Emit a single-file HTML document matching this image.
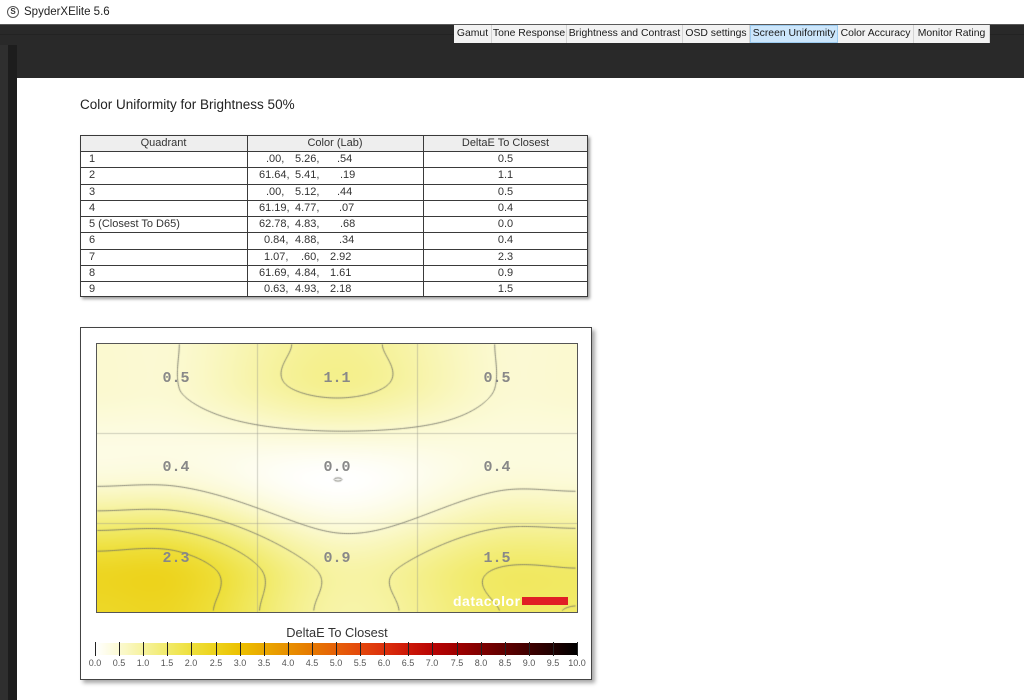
<!DOCTYPE html>
<html><head><meta charset="utf-8">
<style>
*{margin:0;padding:0;box-sizing:border-box}
html,body{width:1024px;height:700px;overflow:hidden;background:#fff;font-family:"Liberation Sans",Arial,sans-serif;position:relative}
.abs{position:absolute}
.tab{position:absolute;top:25px;height:18px;background:#f2f2f2;border-right:1px solid #d4d4d4;font-size:10.4px;color:#1a1a1a;text-align:center;line-height:18px;white-space:nowrap}
.tab.sel{background:#cce6fb;border:1px solid #9ccbf0;line-height:16px}
.t{position:absolute;font-size:11px;color:#333;white-space:nowrap;line-height:12px}
.hl{position:absolute;left:0;width:506px;height:1px;background:#3a3a3a}
.lbl{position:absolute;font-family:"Liberation Mono",monospace;font-weight:bold;font-size:15px;color:#888;line-height:16px;width:40px;text-align:center}
.tk{position:absolute;top:642px;width:1px;height:14px;background:#222}
.tl{position:absolute;top:658px;font-size:9px;color:#555;width:30px;text-align:center;line-height:10px}
</style></head><body>
<!-- title bar -->
<div class="abs" style="left:0;top:0;width:1024px;height:24px;background:#fff"></div>
<div class="abs" style="left:7px;top:6px;width:12px;height:12px;border:1px solid #555;border-radius:50%;font-size:8px;font-weight:bold;text-align:center;line-height:10px;color:#333">S</div>
<div class="abs" style="left:24px;top:5px;font-size:11.5px;color:#222;line-height:14px">SpyderXElite 5.6</div>
<!-- dark band -->
<div class="abs" style="left:0;top:24px;width:1024px;height:55px;background:#292929;border-top:1px solid #5a5a5a"></div>
<div class="abs" style="left:0;top:34px;width:1024px;height:1px;background:#232323"></div>
<div class="abs" style="left:0;top:45px;width:17px;height:655px;background:linear-gradient(to right,#2f2f2f 0px,#2f2f2f 8px,#1d1d1d 8px,#1d1d1d 17px)"></div>
<div class="abs" style="left:17px;top:78px;width:1007px;height:622px;background:#fff"></div>
<!-- tabs -->
<div class="tab" style="left:454px;width:38px">Gamut</div>
<div class="tab" style="left:492px;width:75px">Tone Response</div>
<div class="tab" style="left:567px;width:116px">Brightness and Contrast</div>
<div class="tab" style="left:683px;width:67px">OSD settings</div>
<div class="tab sel" style="left:750px;width:88px">Screen Uniformity</div>
<div class="tab" style="left:838px;width:76px">Color Accuracy</div>
<div class="tab" style="left:914px;width:76px">Monitor Rating</div>

<!-- page title -->
<div class="abs" style="left:80px;top:97px;font-size:13.5px;color:#222;line-height:16px;white-space:nowrap">Color Uniformity for Brightness 50%</div>

<!-- table -->
<div class="abs" style="left:80px;top:135px;width:508px;height:162px;border:1px solid #3a3a3a;box-shadow:2px 2px 3px rgba(0,0,0,.4);background:#fff">
  <div class="abs" style="left:0;top:0;width:506px;height:15px;background:#eeeeee"></div>
  <div class="hl" style="top:15px"></div>
  <div class="hl" style="top:31px"></div>
  <div class="hl" style="top:48px"></div>
  <div class="hl" style="top:64px"></div>
  <div class="hl" style="top:80px"></div>
  <div class="hl" style="top:96px"></div>
  <div class="hl" style="top:113px"></div>
  <div class="hl" style="top:129px"></div>
  <div class="hl" style="top:145px"></div>
  <div class="abs" style="left:166px;top:0;width:1px;height:160px;background:#3a3a3a"></div>
  <div class="abs" style="left:342px;top:0;width:1px;height:160px;background:#3a3a3a"></div>
</div>
<!-- header text -->
<div class="t" style="left:80px;width:167px;text-align:center;top:137px">Quadrant</div>
<div class="t" style="left:247px;width:176px;text-align:center;top:137px">Color (Lab)</div>
<div class="t" style="left:423px;width:165px;text-align:center;top:137px">DeltaE To Closest</div>
<!-- rows -->
<div class="t" style="left:89px;top:153px">1</div>
<div class="t" style="left:89px;top:169px">2</div>
<div class="t" style="left:89px;top:186px">3</div>
<div class="t" style="left:89px;top:202px">4</div>
<div class="t" style="left:89px;top:218px">5 (Closest To D65)</div>
<div class="t" style="left:89px;top:234px">6</div>
<div class="t" style="left:89px;top:251px">7</div>
<div class="t" style="left:89px;top:267px">8</div>
<div class="t" style="left:89px;top:283px">9</div>

<div class="t" style="left:266px;top:153px">.00,</div><div class="t" style="left:295px;top:153px">5.26,</div><div class="t" style="left:337px;top:153px">.54</div>
<div class="t" style="left:259px;top:169px">61.64,</div><div class="t" style="left:295px;top:169px">5.41,</div><div class="t" style="left:340px;top:169px">.19</div>
<div class="t" style="left:266px;top:186px">.00,</div><div class="t" style="left:295px;top:186px">5.12,</div><div class="t" style="left:337px;top:186px">.44</div>
<div class="t" style="left:259px;top:202px">61.19,</div><div class="t" style="left:295px;top:202px">4.77,</div><div class="t" style="left:339px;top:202px">.07</div>
<div class="t" style="left:259px;top:218px">62.78,</div><div class="t" style="left:295px;top:218px">4.83,</div><div class="t" style="left:340px;top:218px">.68</div>
<div class="t" style="left:264px;top:234px">0.84,</div><div class="t" style="left:295px;top:234px">4.88,</div><div class="t" style="left:339px;top:234px">.34</div>
<div class="t" style="left:264px;top:251px">1.07,</div><div class="t" style="left:301px;top:251px">.60,</div><div class="t" style="left:330px;top:251px">2.92</div>
<div class="t" style="left:259px;top:267px">61.69,</div><div class="t" style="left:295px;top:267px">4.84,</div><div class="t" style="left:330px;top:267px">1.61</div>
<div class="t" style="left:264px;top:283px">0.63,</div><div class="t" style="left:295px;top:283px">4.93,</div><div class="t" style="left:330px;top:283px">2.18</div>

<div class="t" style="left:423px;width:165px;text-align:center;top:153px">0.5</div>
<div class="t" style="left:423px;width:165px;text-align:center;top:169px">1.1</div>
<div class="t" style="left:423px;width:165px;text-align:center;top:186px">0.5</div>
<div class="t" style="left:423px;width:165px;text-align:center;top:202px">0.4</div>
<div class="t" style="left:423px;width:165px;text-align:center;top:218px">0.0</div>
<div class="t" style="left:423px;width:165px;text-align:center;top:234px">0.4</div>
<div class="t" style="left:423px;width:165px;text-align:center;top:251px">2.3</div>
<div class="t" style="left:423px;width:165px;text-align:center;top:267px">0.9</div>
<div class="t" style="left:423px;width:165px;text-align:center;top:283px">1.5</div>

<!-- chart box -->
<div class="abs" style="left:80px;top:327px;width:512px;height:353px;border:1px solid #444;background:#fff;box-shadow:3px 3px 4px rgba(0,0,0,.35)"></div>
<div class="abs" style="left:96px;top:343px;width:482px;height:270px;border:1px solid #555;background:#fbf8d6">
  <canvas id="hm" width="480" height="268" style="position:absolute;left:0;top:0;width:480px;height:268px"></canvas>
</div>
<!-- heatmap labels -->
<div class="lbl" style="left:156px;top:371px">0.5</div>
<div class="lbl" style="left:317px;top:371px">1.1</div>
<div class="lbl" style="left:477px;top:371px">0.5</div>
<div class="lbl" style="left:156px;top:460px">0.4</div>
<div class="lbl" style="left:317px;top:460px">0.0</div>
<div class="lbl" style="left:477px;top:460px">0.4</div>
<div class="lbl" style="left:156px;top:551px">2.3</div>
<div class="lbl" style="left:317px;top:551px">0.9</div>
<div class="lbl" style="left:477px;top:551px">1.5</div>
<!-- datacolor logo -->
<div class="abs" style="left:453px;top:593px;font-size:14px;font-weight:bold;color:#fff;letter-spacing:0.5px;line-height:16px">datacolor</div>
<div class="abs" style="left:522px;top:597px;width:46px;height:8px;background:#e01e25"></div>

<!-- colorbar -->
<div class="abs" style="left:259px;top:625px;width:156px;text-align:center;font-size:12.8px;color:#333;line-height:15px">DeltaE To Closest</div>
<div class="abs" style="left:96px;top:643px;width:481px;height:12px;background:linear-gradient(to right,#ffffff 0%,#fbf9d0 5%,#f6f29c 10%,#f1ea68 15%,#eedf3a 20%,#edd21a 25%,#ecc000 30%,#eaa800 35%,#e89000 40%,#e67800 45%,#e66008 50%,#e4480c 55%,#dc300c 60%,#cc1808 65%,#b80404 70%,#a00000 75%,#800000 80%,#600000 85%,#400000 90%,#200000 95%,#000000 100%)"></div>
<div id="ticks"></div>
<script>
(function(){
  var tk=document.getElementById('ticks'),h='';
  for(var i=0;i<=20;i++){
    var x=95+i*24.1;
    h+='<div class="tk" style="left:'+Math.round(x)+'px"></div>';
    h+='<div class="tl" style="left:'+Math.round(x-15)+'px">'+(i/2).toFixed(1)+'</div>';
  }
  tk.innerHTML=h;
  var c=document.getElementById('hm');if(!c.getContext)return;
  var ctx=c.getContext('2d'),W=480,H=268;
  var V=[[0.5,1.1,0.5],[0.4,0.0,0.4],[2.3,0.9,1.5]];
  function cl(k){return k<0?0:(k>2?2:k);}
  var P=[];for(var r=0;r<5;r++){P[r]=[];for(var q=0;q<5;q++)P[r][q]=V[cl(r-1)][cl(q-1)];}
  var XN=[0,W/6,W/2,5*W/6,W],YN=[0,H/6,H/2,5*H/6,H];
  function tang(n,v){
    var m=[0,0,0,0,0];
    m[0]=(v[1]-v[0])/(n[1]-n[0]);m[4]=(v[4]-v[3])/(n[4]-n[3]);
    for(var k=1;k<4;k++)m[k]=(v[k+1]-v[k-1])/(n[k+1]-n[k-1]);
    return m;
  }
  function interp(n,v,x){
    var m=tang(n,v),k=0;
    if(x<=n[0])return v[0]; if(x>=n[4])return v[4];
    while(k<3&&x>n[k+1])k++;
    var hh=n[k+1]-n[k],u=(x-n[k])/hh,u2=u*u,u3=u2*u;
    return (2*u3-3*u2+1)*v[k]+(u3-2*u2+u)*hh*m[k]+(-2*u3+3*u2)*v[k+1]+(u3-u2)*hh*m[k+1];
  }
  var RX=[];for(r=0;r<5;r++){RX[r]=new Float64Array(W);for(var x=0;x<W;x++)RX[r][x]=interp(XN,P[r],x+0.5);}
  var F=new Float64Array(W*H);
  for(var y=0;y<H;y++)for(x=0;x<W;x++){
    F[y*W+x]=interp(YN,[RX[0][x],RX[1][x],RX[2][x],RX[3][x],RX[4][x]],y+0.5);
  }
  var stops=[[0,255,255,255],[0.5,251,249,208],[1,246,242,156],[1.5,241,234,104],[2,238,223,58],[2.5,237,210,26],[3,236,192,0],[3.5,234,168,0],[4,232,144,0],[4.5,230,120,0],[5,230,96,8],[5.5,228,72,12],[6,220,48,12],[6.5,204,24,8],[7,184,4,4],[7.5,160,0,0],[8,128,0,0],[8.5,96,0,0],[9,64,0,0],[9.5,32,0,0],[10,0,0,0]];
  function cm(v){
    if(v<=0)return stops[0];
    for(var k=1;k<stops.length;k++){
      if(v<=stops[k][0]){var a=stops[k-1],b=stops[k],u=(v-a[0])/(b[0]-a[0]);
        return [0,a[1]+(b[1]-a[1])*u,a[2]+(b[2]-a[2])*u,a[3]+(b[3]-a[3])*u];}
    }
    return stops[stops.length-1];
  }
  var img=ctx.createImageData(W,H),d=img.data;
  for(y=0;y<H;y++)for(x=0;x<W;x++){
    var col=cm(F[y*W+x]),p=(y*W+x)*4;
    d[p]=col[1];d[p+1]=col[2];d[p+2]=col[3];d[p+3]=255;
  }
  ctx.putImageData(img,0,0);
  ctx.strokeStyle='rgba(150,150,140,0.45)';ctx.lineWidth=1;
  ctx.beginPath();
  [Math.round(W/3)+0.5,Math.round(2*W/3)+0.5].forEach(function(x){ctx.moveTo(x,0);ctx.lineTo(x,H);});
  [Math.round(H/3)+0.5,Math.round(2*H/3)+0.5].forEach(function(y){ctx.moveTo(0,y);ctx.lineTo(W,y);});
  ctx.stroke();
  var st=2,nx=Math.floor((W-1)/st)+1,ny=Math.floor((H-1)/st)+1;
  function G(i,j){return F[(j*st)*W+i*st];}
  ctx.strokeStyle='rgba(110,110,100,0.85)';ctx.lineWidth=1;
  [0.5,1.0,1.5,2.0,2.5].forEach(function(L0){
    var Lv=L0+0.006;
    ctx.beginPath();
    for(var j=0;j<ny-1;j++)for(var i=0;i<nx-1;i++){
      var a=G(i,j),b=G(i+1,j),c2=G(i+1,j+1),dd=G(i,j+1);
      var idx=(a>Lv?8:0)|(b>Lv?4:0)|(c2>Lv?2:0)|(dd>Lv?1:0);
      if(idx===0||idx===15)continue;
      var x0=i*st+0.5,y0=j*st+0.5,x1=x0+st,y1=y0+st;
      function ip(p,q){var dv=q-p;if(Math.abs(dv)<1e-12)return 0.5;var r=(Lv-p)/dv;return r<0?0:(r>1?1:r);}
      var Tp=[x0+st*ip(a,b),y0],Rp=[x1,y0+st*ip(b,c2)],Bp=[x0+st*ip(dd,c2),y1],Lp=[x0,y0+st*ip(a,dd)];
      function seg(p,q){ctx.moveTo(p[0],p[1]);ctx.lineTo(q[0],q[1]);}
      switch(idx){
        case 1:case 14:seg(Lp,Bp);break;
        case 2:case 13:seg(Bp,Rp);break;
        case 3:case 12:seg(Lp,Rp);break;
        case 4:case 11:seg(Tp,Rp);break;
        case 5:seg(Lp,Tp);seg(Bp,Rp);break;
        case 6:case 9:seg(Tp,Bp);break;
        case 7:case 8:seg(Lp,Tp);break;
        case 10:seg(Tp,Rp);seg(Lp,Bp);break;
      }
    }
    ctx.stroke();
  });
  ctx.beginPath();ctx.ellipse(W/2+1,H/2+1.5,4,1.6,0,0,Math.PI*2);ctx.stroke();
})();
</script>
</body></html>
